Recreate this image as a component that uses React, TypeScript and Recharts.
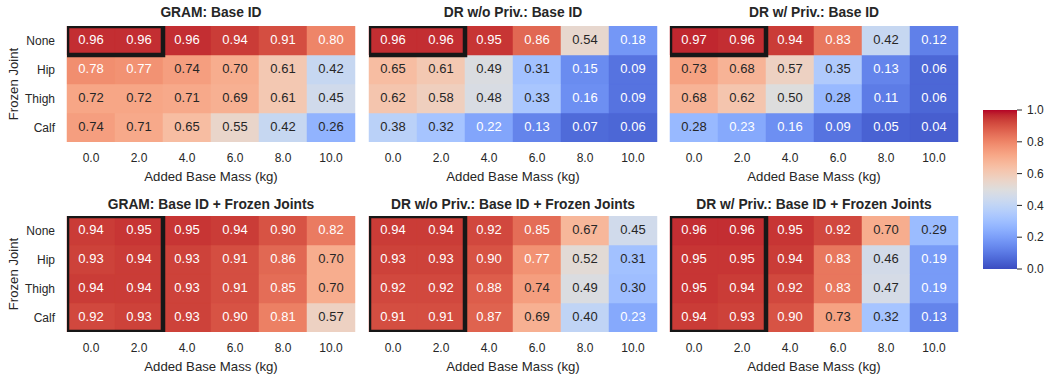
import { BarChart, Bar, XAxis, YAxis, Cell, LabelList, ReferenceArea } from "recharts";

// ---- data ----
const masses = ["0.0", "2.0", "4.0", "6.0", "8.0", "10.0"];
const joints = ["None", "Hip", "Thigh", "Calf"];

// rows follow `joints`, columns follow `masses`
const gramBaseId = [
  [0.96, 0.96, 0.96, 0.94, 0.91, 0.8],
  [0.78, 0.77, 0.74, 0.7, 0.61, 0.42],
  [0.72, 0.72, 0.71, 0.69, 0.61, 0.45],
  [0.74, 0.71, 0.65, 0.55, 0.42, 0.26],
];
const drNoPrivBaseId = [
  [0.96, 0.96, 0.95, 0.86, 0.54, 0.18],
  [0.65, 0.61, 0.49, 0.31, 0.15, 0.09],
  [0.62, 0.58, 0.48, 0.33, 0.16, 0.09],
  [0.38, 0.32, 0.22, 0.13, 0.07, 0.06],
];
const drPrivBaseId = [
  [0.97, 0.96, 0.94, 0.83, 0.42, 0.12],
  [0.73, 0.68, 0.57, 0.35, 0.13, 0.06],
  [0.68, 0.62, 0.5, 0.28, 0.11, 0.06],
  [0.28, 0.23, 0.16, 0.09, 0.05, 0.04],
];
const gramFrozen = [
  [0.94, 0.95, 0.95, 0.94, 0.9, 0.82],
  [0.93, 0.94, 0.93, 0.91, 0.86, 0.7],
  [0.94, 0.94, 0.93, 0.91, 0.85, 0.7],
  [0.92, 0.93, 0.93, 0.9, 0.81, 0.57],
];
const drNoPrivFrozen = [
  [0.94, 0.94, 0.92, 0.85, 0.67, 0.45],
  [0.93, 0.93, 0.9, 0.77, 0.52, 0.31],
  [0.92, 0.92, 0.88, 0.74, 0.49, 0.3],
  [0.91, 0.91, 0.87, 0.69, 0.4, 0.23],
];
const drPrivFrozen = [
  [0.96, 0.96, 0.95, 0.92, 0.7, 0.29],
  [0.95, 0.95, 0.94, 0.83, 0.46, 0.19],
  [0.95, 0.94, 0.92, 0.83, 0.47, 0.19],
  [0.94, 0.93, 0.9, 0.73, 0.32, 0.13],
];
const colorbarTicks = [0, 0.2, 0.4, 0.6, 0.8, 1.0];

// ---- coolwarm colormap ----
const CW = [
  [59, 76, 192], [68, 90, 204], [77, 104, 215], [87, 117, 225], [98, 130, 234],
  [108, 142, 241], [119, 154, 247], [130, 165, 251], [141, 176, 254], [152, 185, 255],
  [163, 194, 255], [174, 201, 253], [184, 208, 249], [194, 213, 244], [204, 217, 238],
  [213, 219, 230], [221, 221, 221], [229, 216, 209], [236, 211, 197], [241, 204, 184],
  [245, 196, 172], [247, 187, 159], [247, 177, 147], [247, 166, 134], [244, 154, 123],
  [241, 141, 111], [236, 127, 99], [229, 112, 89], [222, 96, 77], [213, 80, 66],
  [203, 62, 56], [192, 40, 47], [180, 4, 38],
];

function cwRgb(v: number) {
  const t = Math.max(0, Math.min(1, v)) * (CW.length - 1);
  const i = Math.min(CW.length - 2, Math.floor(t));
  const f = t - i;
  return CW[i].map((c, k) => c + (CW[i + 1][k] - c) * f);
}
function coolwarm(v: number) {
  const [r, g, b] = cwRgb(v);
  return `rgb(${Math.round(r)},${Math.round(g)},${Math.round(b)})`;
}
// seaborn's rule for annotation colour
function textColor(v: number) {
  const lin = cwRgb(v).map((c) => {
    const x = c / 255;
    return x <= 0.03928 ? x / 12.92 : Math.pow((x + 0.055) / 1.055, 2.4);
  });
  const lum = 0.2126 * lin[0] + 0.7152 * lin[1] + 0.0722 * lin[2];
  return lum > 0.408 ? "#262626" : "#ffffff";
}

const INK = "#262626";
const FONT = '"Liberation Sans", Arial, sans-serif';

const COLS = [
  { left: 0, width: 360, mL: 0, mR: 5, yAxis: true },
  { left: 360, width: 300, mL: 9, mR: 3, yAxis: false },
  { left: 660, width: 300, mL: 10, mR: 2, yAxis: false },
];
const ROWS = [
  { top: 0, height: 190, mT: 26, xH: 48, titleDy: 9 },
  { top: 190, height: 187, mT: 26, xH: 45, titleDy: 7.5 },
];
const Y_AXIS_W = 67;

function Heatmap({ title, grid, col, row, boxAll }: { title: string; grid: number[][]; col: number; row: number; boxAll: boolean }) {
  const c = COLS[col];
  const r = ROWS[row];
  const data = masses.map((m, i) => {
    const d: Record<string, number | string> = { mass: m };
    joints.forEach((j, k) => {
      d[j] = grid[k][i];
      d[`${j}_u`] = 1;
    });
    return d;
  });
  const plotX0 = c.mL + (c.yAxis ? Y_AXIS_W : 0);
  const plotW = c.width - plotX0 - c.mR;
  const plotH = r.height - r.mT - r.xH;
  const cx = plotX0 + plotW / 2;
  const plotBottom = r.mT + plotH;

  return (
    <div style={{ position: "absolute", left: c.left, top: r.top }}>
      <BarChart
        width={c.width}
        height={r.height}
        data={data}
        margin={{ top: r.mT, right: c.mR, bottom: 0, left: c.mL }}
        barCategoryGap={0}
        barGap={0}
      >
        <XAxis
          dataKey="mass"
          type="category"
          height={r.xH}
          tickLine={false}
          axisLine={false}
          tickSize={0}
          tickMargin={11.5}
          tick={{ fill: INK, fontSize: 12 }}
        />
        <YAxis
          type="number"
          domain={[0, 4]}
          allowDataOverflow
          hide={!c.yAxis}
          width={Y_AXIS_W}
          ticks={[3.5, 2.5, 1.5, 0.5]}
          tickFormatter={(v: number) => joints[3 - Math.floor(v)]}
          tickLine={false}
          axisLine={false}
          tickSize={0}
          tickMargin={12}
          tick={{ fill: INK, fontSize: 12 }}
        />
        {[...joints].reverse().map((j) => (
          <Bar key={j} dataKey={`${j}_u`} stackId="s" isAnimationActive={false}>
            {data.map((d, i) => (
              <Cell key={i} fill={coolwarm(d[j] as number)} stroke={coolwarm(d[j] as number)} strokeWidth={0.5} />
            ))}
            <LabelList
              dataKey={j}
              content={(p: any) => {
                const v = Number(p.value);
                return (
                  <text
                    x={Number(p.x) + Number(p.width) / 2}
                    y={Number(p.y) + Number(p.height) / 2 - 1}
                    textAnchor="middle"
                    dominantBaseline="central"
                    fill={textColor(v)}
                    fontSize={13}
                  >
                    {v.toFixed(2)}
                  </text>
                );
              }}
            />
          </Bar>
        ))}
        <ReferenceArea
          x1="0.0"
          x2="2.0"
          y1={boxAll ? 0 : 3}
          y2={4}
          fill="none"
          fillOpacity={0}
          stroke="#171717"
          strokeWidth={4.5}
          ifOverflow="hidden"
          zIndex={1500}
        />
        <text x={cx} y={r.mT - r.titleDy} textAnchor="middle" fontWeight="bold" fontSize={13.8} fill={INK}>
          {title}
        </text>
        <text x={cx} y={plotBottom + 39} textAnchor="middle" fontSize={13.2} fill={INK}>
          Added Base Mass (kg)
        </text>
        {c.yAxis && (
          <text
            transform={`translate(18, ${r.mT + plotH / 2}) rotate(-90)`}
            textAnchor="middle"
            fontSize={13.2}
            fill={INK}
          >
            Frozen Joint
          </text>
        )}
      </BarChart>
    </div>
  );
}

function Colorbar() {
  const stops = CW.map((_, i) => i / (CW.length - 1));
  return (
    <div style={{ position: "absolute", left: 960, top: 100 }}>
      <BarChart
        width={88}
        height={180}
        data={[{ k: "cb", v: 1 }]}
        margin={{ top: 10, right: 0, bottom: 11, left: 23 }}
        barCategoryGap={0}
      >
        <defs>
          <linearGradient id="cwGrad" x1="0" y1="1" x2="0" y2="0">
            {stops.map((t) => (
              <stop key={t} offset={t} stopColor={coolwarm(t)} />
            ))}
          </linearGradient>
        </defs>
        <XAxis dataKey="k" hide />
        <YAxis
          orientation="right"
          type="number"
          domain={[0, 1]}
          ticks={colorbarTicks}
          tickFormatter={(v: number) => v.toFixed(1)}
          width={31}
          axisLine={false}
          tickSize={5}
          tickMargin={5}
          tickLine={{ stroke: INK }}
          tick={{ fill: INK, fontSize: 12 }}
        />
        <Bar dataKey="v" fill="url(#cwGrad)" isAnimationActive={false} />
      </BarChart>
    </div>
  );
}

export default function App() {
  return (
    <div
      style={{
        position: "absolute",
        left: 0,
        top: 0,
        width: 1048,
        height: 377,
        background: "#ffffff",
        fontFamily: FONT,
        overflow: "hidden",
      }}
    >
      <Heatmap title="GRAM: Base ID" grid={gramBaseId} col={0} row={0} boxAll={false} />
      <Heatmap title="DR w/o Priv.: Base ID" grid={drNoPrivBaseId} col={1} row={0} boxAll={false} />
      <Heatmap title="DR w/ Priv.: Base ID" grid={drPrivBaseId} col={2} row={0} boxAll={false} />
      <Heatmap title="GRAM: Base ID + Frozen Joints" grid={gramFrozen} col={0} row={1} boxAll />
      <Heatmap title="DR w/o Priv.: Base ID + Frozen Joints" grid={drNoPrivFrozen} col={1} row={1} boxAll />
      <Heatmap title="DR w/ Priv.: Base ID + Frozen Joints" grid={drPrivFrozen} col={2} row={1} boxAll />
      <Colorbar />
    </div>
  );
}
